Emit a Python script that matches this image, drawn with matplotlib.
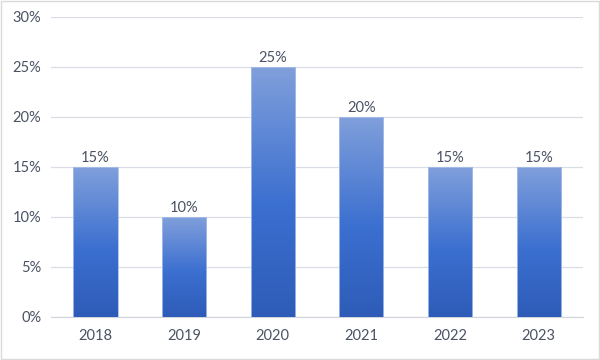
import matplotlib
matplotlib.use("Agg")
import matplotlib.pyplot as plt
import numpy as np
from matplotlib.colors import LinearSegmentedColormap
from matplotlib.patches import Rectangle
from matplotlib.ticker import FuncFormatter

years = ["2018", "2019", "2020", "2021", "2022", "2023"]
values = [0.15, 0.10, 0.25, 0.20, 0.15, 0.15]
y_ticks = [0, 0.05, 0.10, 0.15, 0.20, 0.25, 0.30]

plt.rcParams['font.family'] = ['Lato', 'DejaVu Sans']
text_color = "#4a5263"

fig = plt.figure(figsize=(6, 3.6), dpi=100)
ax = fig.add_axes([51/600, 1-317/360, (583-51)/600, 300/360])

cmap = LinearSegmentedColormap.from_list(
    "grad", [(0.0, "#2e5cb8"), (0.45, "#3b6fd0"), (1.0, "#809fdb")])
grad = np.linspace(0, 1, 256).reshape(-1, 1)

x = np.arange(len(years))
width = 0.5
bars = ax.bar(x, values, width=width, color="none", edgecolor="none", zorder=3)
for b, v in zip(bars, values):
    x0 = b.get_x()
    im = ax.imshow(grad, cmap=cmap, origin="lower", aspect="auto",
                   extent=[x0, x0 + width, 0, v], zorder=3)
    im.set_clip_path(b)
    ax.add_patch(Rectangle((x0, 0), width, v, fill=False,
                           edgecolor="#a9bfe8", linewidth=0.6, zorder=4))
    ax.text(x0 + width/2, v + 0.002, f"{round(v*100)}%", ha="center",
            va="bottom", fontsize=10.5, color=text_color, zorder=5)

ax.set_xlim(-0.5, len(years) - 0.5)
ax.set_ylim(0, 0.30)
ax.set_yticks(y_ticks)
ax.yaxis.set_major_formatter(FuncFormatter(lambda v, p: f"{round(v*100)}%"))
ax.set_xticks(x)
ax.set_xticklabels(years)
ax.grid(axis="y", color="#d9dde6", linewidth=0.9, zorder=0)
ax.set_axisbelow(True)
for s in ["top", "right", "left"]:
    ax.spines[s].set_visible(False)
ax.spines["bottom"].set_color("#d0d4dc")
ax.tick_params(axis="both", length=0, colors=text_color, labelsize=10.5)
ax.tick_params(axis="x", pad=9)
ax.tick_params(axis="y", pad=7)

fig.patches.append(Rectangle((0.0015, 0.0025), 0.997, 0.995, transform=fig.transFigure,
                             fill=False, edgecolor="#d9d9d9", linewidth=1))

fig.savefig("out.png", dpi=100)
